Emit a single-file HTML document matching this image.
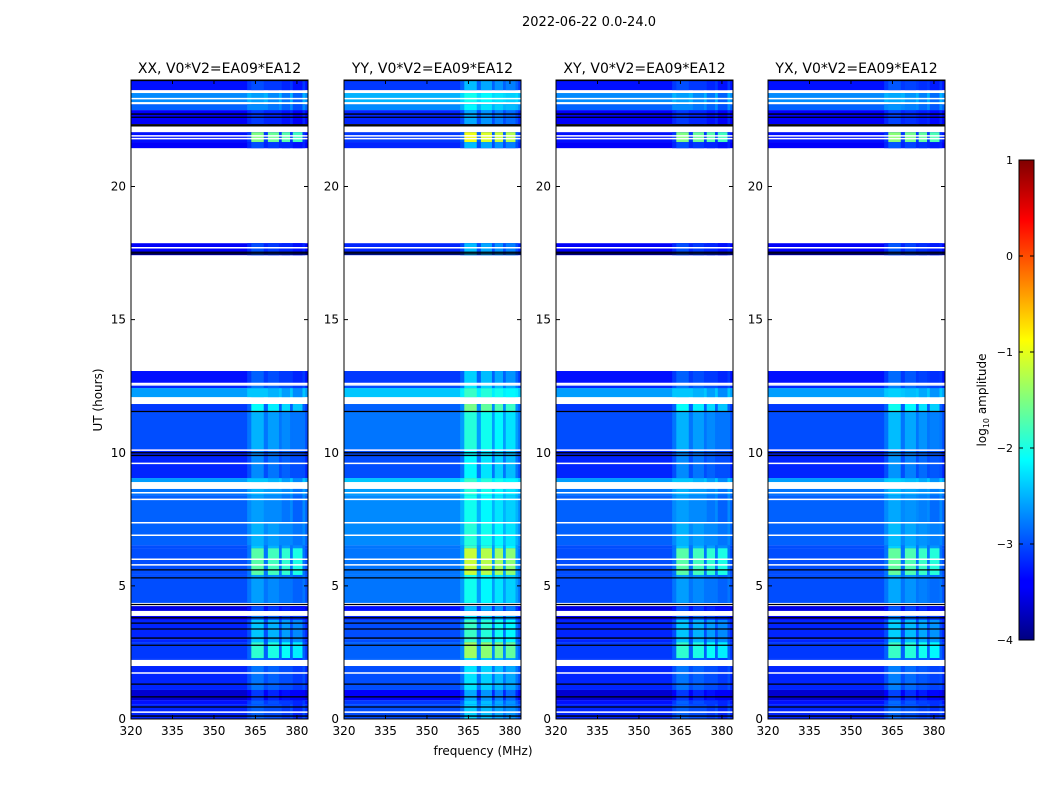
<!DOCTYPE html>
<html><head><meta charset="utf-8"><style>
html,body{margin:0;padding:0;background:#fff;width:1050px;height:800px;overflow:hidden}
svg text{font-family:"DejaVu Sans","Liberation Sans",sans-serif}
</style></head><body>
<svg id="fig" width="1050" height="800" xmlns="http://www.w3.org/2000/svg">
<defs>
<linearGradient id="jet" x1="0" y1="1" x2="0" y2="0">
<stop offset="0" stop-color="#000080"/><stop offset="0.11" stop-color="#0000ff"/><stop offset="0.125" stop-color="#0000ff"/>
<stop offset="0.375" stop-color="#00ffff"/><stop offset="0.625" stop-color="#ffff00"/><stop offset="0.875" stop-color="#ff0000"/><stop offset="1" stop-color="#800000"/>
</linearGradient>
</defs>
<text x="589" y="26" font-size="13" text-anchor="middle">2022-06-22 0.0-24.0</text>
<text x="483" y="755" font-size="12" text-anchor="middle">frequency (MHz)</text>
<text transform="translate(102,400) rotate(-90)" font-size="12" text-anchor="middle">UT (hours)</text>
<g id="panels"></g>
<g id="cbar">
<rect x="1019" y="160" width="15" height="480" fill="url(#jet)" stroke="#000" stroke-width="1"/>
<text transform="translate(986,400) rotate(-90)" font-size="12" text-anchor="middle">log<tspan font-size="8" dy="3">10</tspan><tspan dy="-3"> amplitude</tspan></text>
</g>
</svg>
<script>
const panelNames=["XX","YY","XY","YX"];
const panelBaseOffset=[-0.4,-0.2,-0.4,-0.4];
const panelRfiOffset=[-0.3,0.25,-0.3,-0.25];
// time segments: [start hour, end hour, background log amp (null = no data), RFI log amp]
const segStart=[0,0.56,0.71,1.09,1.99,2.22,2.29,2.89,2.97,3.72,3.87,4.06,4.24,4.36,5.41,6.42,6.53,7.40,8.41,8.64,8.90,9.05,10.14,11.53,11.83,12.09,12.43,12.58,13.07,17.42,17.87,21.44,21.67,22.04,22.34,22.87,23.09,23.17,23.51,23.62];
const segEnd=[0.56,0.71,1.09,1.99,2.22,2.29,2.89,2.97,3.72,3.87,4.06,4.24,4.36,5.41,6.42,6.53,7.40,8.41,8.64,8.90,9.05,10.14,11.53,11.83,12.09,12.43,12.58,13.07,17.42,17.87,21.44,21.67,22.04,22.34,22.87,23.09,23.17,23.51,23.62,24];
const segBase=[-2.8,-2.9,-3.2,-2.8,null,-2.7,-2.7,-2.8,-2.8,-3.0,null,-3.1,null,-2.6,-2.6,-2.6,-2.5,-2.5,-2.4,null,-2.2,-2.8,-2.6,-2.7,null,-2.2,-2.8,-2.9,null,-3.0,null,-3.0,-2.9,null,-3.0,-2.5,null,-2.3,null,-2.9];
const segRfi=[-2.6,-2.6,-2.8,-2.5,null,-2.5,-1.6,-2.1,-2.1,-2.5,null,-2.7,null,-2.3,-1.4,-2.1,-2.2,-2.3,-2.2,null,-2.1,-2.4,-2.2,-1.8,null,-2.1,-2.5,-2.6,null,-2.7,null,-2.7,-1.2,null,-2.8,-2.4,null,-2.3,null,-2.7];
const rfiLo=[363.5,369.5,374.5,378.5];
const rfiHi=[368,373.5,377.5,382];
const whiteLines=[0.26,1.73,5.79,6.0,6.9,7.37,8.25,8.5,9.6,10.1,12.55,12.6,17.7,21.8,21.9,23.3];
const blackLines=[0.11,0.45,0.83,1.31,2.77,3.04,3.38,3.6,3.8,4.3,5.3,5.6,9.9,10.0,11.55,17.47,17.53,22.28,22.32,22.6,22.72,23.98];
const xTicks=[320,335,350,365,380];
const yTicks=[0,5,10,15,20];
const cbTicks=[1,0,-1,-2,-3,-4];
const panelX=[131,344,556,768];
const PW=177,PT=80,PB=719,FMIN=320,FMAX=384;
const NS="http://www.w3.org/2000/svg";
function jet(v){let t=Math.max(0,Math.min(1,(v+4)/5));const c=x=>Math.round(255*Math.max(0,Math.min(1,1.5-Math.abs(4*t-x))));return `rgb(${c(3)},${c(2)},${c(1)})`;}
function yS(h){return PB-(h/24)*(PB-PT);}
function mk(tag,at,parent){const e=document.createElementNS(NS,tag);for(const k in at)e.setAttribute(k,at[k]);parent.appendChild(e);return e;}
const root=document.getElementById('panels');
panelNames.forEach((nm,p)=>{
 const x0=panelX[p];const xS=f=>x0+(f-FMIN)/(FMAX-FMIN)*PW;
 const g=mk('g',{},root);
 
 
 for(let i=0;i<segStart.length;i++){
  if(segBase[i]===null)continue;
  const y1=yS(segEnd[i]),y2=yS(segStart[i]);
  const b=segBase[i]+panelBaseOffset[p];
  const r=mk('rect',{x:x0,y:y1,width:PW,height:y2-y1,fill:jet(b)},g);
  
  
  const m=mk('rect',{x:xS(362),y:y1,width:xS(383)-xS(362),height:y2-y1,fill:jet(b+0.2)},g);
  
  
  for(let k=0;k<rfiLo.length;k++){
   const c=mk('rect',{x:xS(rfiLo[k]),y:y1,width:xS(rfiHi[k])-xS(rfiLo[k]),height:y2-y1,fill:jet(segRfi[i]+panelRfiOffset[p]-k*0.1)},g);
   
   
  }
 }
 whiteLines.forEach(h=>{const l=mk('line',{x1:x0,x2:x0+PW,y1:yS(h),y2:yS(h),stroke:'#fff','stroke-width':1.5},g);
  
  });
 blackLines.forEach(h=>{const l=mk('line',{x1:x0,x2:x0+PW,y1:yS(h),y2:yS(h),stroke:'#000','stroke-width':1.3},g);
  
  });
 const fr=mk('rect',{x:x0,y:PT,width:PW,height:PB-PT,fill:'none',stroke:'#000','stroke-width':1},g);
 
 
 xTicks.forEach(f=>{const x=xS(f);
  mk('line',{x1:x,x2:x,y1:PB,y2:PB-4,stroke:'#000'},g);mk('line',{x1:x,x2:x,y1:PT,y2:PT+4,stroke:'#000'},g);
  const t=mk('text',{x:x,y:PB+16,'font-size':12,'text-anchor':'middle'},g);t.textContent=f;
  
  });
 yTicks.forEach(h=>{const y=yS(h);
  mk('line',{x1:x0,x2:x0+4,y1:y,y2:y,stroke:'#000'},g);mk('line',{x1:x0+PW,x2:x0+PW-4,y1:y,y2:y,stroke:'#000'},g);
  const t=mk('text',{x:x0-5,y:y+4,'font-size':12,'text-anchor':'end'},g);t.textContent=h;
  
  });
 const tt=mk('text',{x:x0+PW/2,y:PT-7,'font-size':14,'text-anchor':'middle'},g);tt.textContent=nm+', V0*V2=EA09*EA12';
 
 
});
const cb=document.getElementById('cbar');
cbTicks.forEach(v=>{const y=160+(1-v)/5*480;
 mk('line',{x1:1019,x2:1023,y1:y,y2:y,stroke:'#000'},cb);mk('line',{x1:1034,x2:1030,y1:y,y2:y,stroke:'#000'},cb);
 const t=mk('text',{x:1013,y:y+4,'font-size':11,'text-anchor':'end'},cb);t.textContent=v<0?'\u2212'+(-v):v;
 
 });
</script>
</body></html>
